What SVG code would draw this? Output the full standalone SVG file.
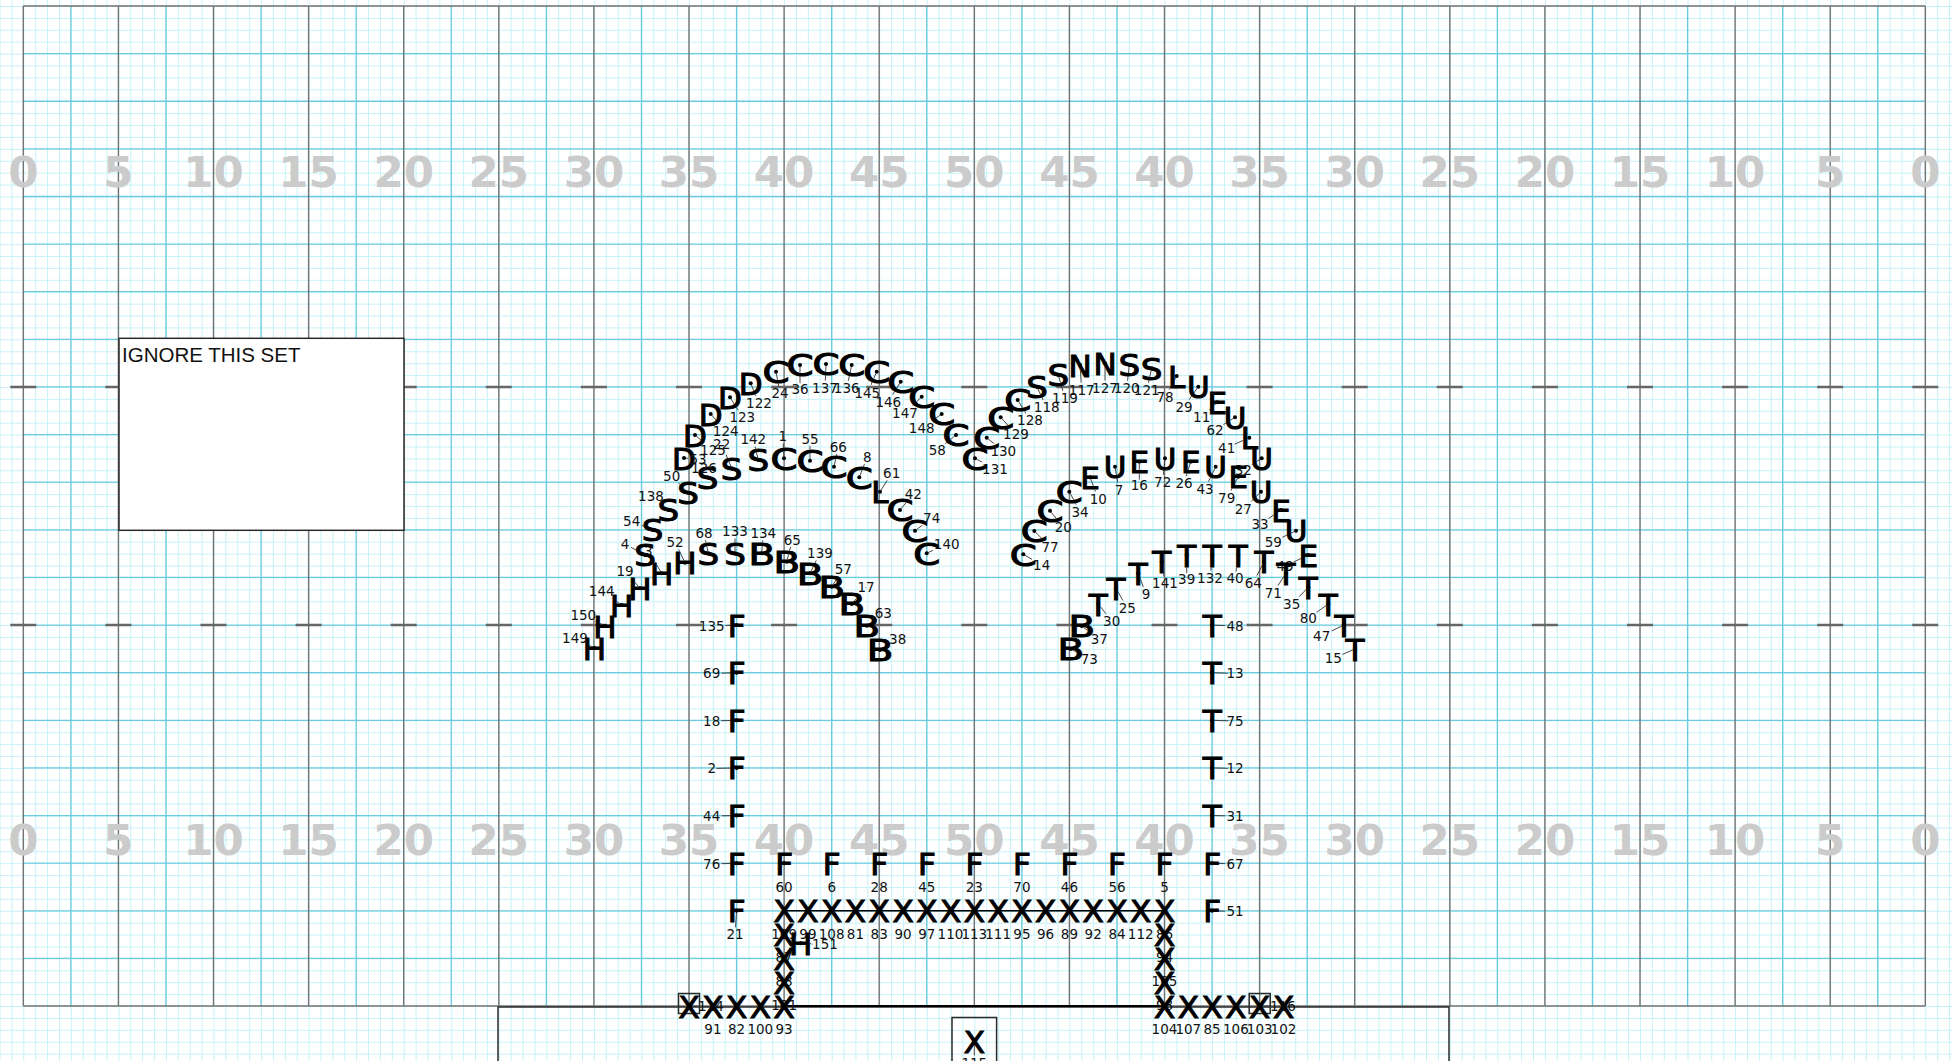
<svg xmlns="http://www.w3.org/2000/svg" xmlns:xlink="http://www.w3.org/1999/xlink" width="1952" height="1061" viewBox="0 0 1952 1061">
<style>
.s{font-family:"DejaVu Sans",sans-serif;font-weight:normal;font-size:31px;text-anchor:middle;fill:#000;stroke:#000;stroke-width:1.1}
.c,.b{transform:scaleX(1.25);transform-box:fill-box;transform-origin:50% 50%}
.z{transform:scaleX(1.1);transform-box:fill-box;transform-origin:50% 50%}
.l{font-family:"DejaVu Sans",sans-serif;font-size:13.5px;text-anchor:middle;fill:#111}
.d{fill:#000;stroke:none}
.num{font-family:"DejaVu Sans",sans-serif;font-weight:bold;font-size:43.5px;fill:#cbcbcb;text-anchor:middle}
#connectors line{stroke:#333;stroke-width:0.9}
</style>
<defs>
<pattern id="fine" patternUnits="userSpaceOnUse" x="23.3" y="6" width="11.8875" height="11.905">
<path d="M0.5 0V11.905M0 0.5H11.8875" stroke="#c6f2f8" stroke-width="1" fill="none"/>
</pattern>
<mask id="lm" maskUnits="userSpaceOnUse" x="0" y="0" width="1952" height="1061">
<rect width="1952" height="1061" fill="#fff"/>
<use xlink:href="#marchers" href="#marchers" stroke="#000" stroke-width="5"/>
</mask>
</defs>
<g id="field">
<rect width="1952" height="1061" fill="#fff"/>
<rect width="1952" height="1061" fill="url(#fine)"/>
<path d="M70.85 6V1006M165.95 6V1006M261.05 6V1006M356.15 6V1006M451.25 6V1006M546.35 6V1006M641.45 6V1006M736.55 6V1006M831.65 6V1006M926.75 6V1006M1021.85 6V1006M1116.95 6V1006M1212.05 6V1006M1307.15 6V1006M1402.25 6V1006M1497.35 6V1006M1592.45 6V1006M1687.55 6V1006M1782.65 6V1006M1877.75 6V1006M23.3 53.62H1925.3M23.3 101.24H1925.3M23.3 148.86H1925.3M23.3 196.48H1925.3M23.3 244.1H1925.3M23.3 291.72H1925.3M23.3 339.34H1925.3M23.3 386.96H1925.3M23.3 434.58H1925.3M23.3 482.2H1925.3M23.3 529.82H1925.3M23.3 577.44H1925.3M23.3 625.06H1925.3M23.3 672.68H1925.3M23.3 720.3H1925.3M23.3 767.92H1925.3M23.3 815.54H1925.3M23.3 863.16H1925.3M23.3 910.78H1925.3M23.3 958.4H1925.3" stroke="#6ccbdf" stroke-width="1.3" fill="none"/>
<path d="M23.3 6V1006M118.4 6V1006M213.5 6V1006M308.6 6V1006M403.7 6V1006M498.8 6V1006M593.9 6V1006M689 6V1006M784.1 6V1006M879.2 6V1006M974.3 6V1006M1069.4 6V1006M1164.5 6V1006M1259.6 6V1006M1354.7 6V1006M1449.8 6V1006M1544.9 6V1006M1640 6V1006M1735.1 6V1006M1830.2 6V1006M1925.3 6V1006M23.3 6H1925.3M23.3 1006H1925.3" stroke="#737373" stroke-width="1.4" fill="none"/>
<path d="M10.3 386.96h26M105.4 386.96h26M200.5 386.96h26M295.6 386.96h26M390.7 386.96h26M485.8 386.96h26M580.9 386.96h26M676 386.96h26M771.1 386.96h26M866.2 386.96h26M961.3 386.96h26M1056.4 386.96h26M1151.5 386.96h26M1246.6 386.96h26M1341.7 386.96h26M1436.8 386.96h26M1531.9 386.96h26M1627 386.96h26M1722.1 386.96h26M1817.2 386.96h26M1912.3 386.96h26M10.3 625.06h26M105.4 625.06h26M200.5 625.06h26M295.6 625.06h26M390.7 625.06h26M485.8 625.06h26M580.9 625.06h26M676 625.06h26M771.1 625.06h26M866.2 625.06h26M961.3 625.06h26M1056.4 625.06h26M1151.5 625.06h26M1246.6 625.06h26M1341.7 625.06h26M1436.8 625.06h26M1531.9 625.06h26M1627 625.06h26M1722.1 625.06h26M1817.2 625.06h26M1912.3 625.06h26" stroke="#666" stroke-width="2.5" fill="none"/>
<g class="num">
<text x="23.3" y="186.7">0</text><text x="118.4" y="186.7">5</text><text x="213.5" y="186.7">10</text><text x="308.6" y="186.7">15</text><text x="403.7" y="186.7">20</text><text x="498.8" y="186.7">25</text><text x="593.9" y="186.7">30</text><text x="689" y="186.7">35</text><text x="784.1" y="186.7">40</text><text x="879.2" y="186.7">45</text><text x="974.3" y="186.7">50</text><text x="1069.4" y="186.7">45</text><text x="1164.5" y="186.7">40</text><text x="1259.6" y="186.7">35</text><text x="1354.7" y="186.7">30</text><text x="1449.8" y="186.7">25</text><text x="1544.9" y="186.7">20</text><text x="1640" y="186.7">15</text><text x="1735.1" y="186.7">10</text><text x="1830.2" y="186.7">5</text><text x="1925.3" y="186.7">0</text>
<text x="23.3" y="855">0</text><text x="118.4" y="855">5</text><text x="213.5" y="855">10</text><text x="308.6" y="855">15</text><text x="403.7" y="855">20</text><text x="498.8" y="855">25</text><text x="593.9" y="855">30</text><text x="689" y="855">35</text><text x="784.1" y="855">40</text><text x="879.2" y="855">45</text><text x="974.3" y="855">50</text><text x="1069.4" y="855">45</text><text x="1164.5" y="855">40</text><text x="1259.6" y="855">35</text><text x="1354.7" y="855">30</text><text x="1449.8" y="855">25</text><text x="1544.9" y="855">20</text><text x="1640" y="855">15</text><text x="1735.1" y="855">10</text><text x="1830.2" y="855">5</text><text x="1925.3" y="855">0</text>
</g>
</g>
<g id="note">
<rect x="119" y="338.3" width="285" height="192" fill="#fff" stroke="#2a2a2a" stroke-width="1.5"/>
<text x="122" y="361.5" font-family="Liberation Sans, Arial, sans-serif" font-size="20.5" fill="#111">IGNORE THIS SET</text>
</g>
<g id="frames" fill="none" stroke="#2a2a2a" stroke-width="1.5">
<rect x="498" y="1007" width="951" height="70"/>
<rect x="952" y="1017.5" width="44.6" height="60"/>
<rect x="678.5" y="993.5" width="21" height="20"/>
<rect x="1249.2" y="993.5" width="21" height="20"/>
</g>
<g id="forms" stroke="#000" stroke-width="1.6">
<line x1="784.1" y1="910.8" x2="1164.5" y2="910.8"/>
<line x1="784.1" y1="1006" x2="1164.5" y2="1006" stroke-width="2.2"/>
</g>
<g id="connectors" mask="url(#lm)">
<line x1="684" y1="458" x2="698" y2="459"/><line x1="695" y1="435" x2="713" y2="450"/><line x1="710.7" y1="414" x2="725.7" y2="430.7"/><line x1="730" y1="397.3" x2="742.3" y2="416.7"/><line x1="750.7" y1="383.3" x2="759" y2="403.3"/><line x1="776" y1="371.7" x2="780" y2="393.3"/><line x1="800" y1="365" x2="800" y2="389.3"/><line x1="826" y1="364" x2="825" y2="388.3"/><line x1="851.7" y1="365" x2="846.7" y2="388.3"/><line x1="876.7" y1="371.7" x2="867.3" y2="393.3"/><line x1="900.7" y1="381.7" x2="888.3" y2="401.7"/><line x1="921.7" y1="396.7" x2="905" y2="413.3"/><line x1="941.7" y1="414" x2="921.7" y2="428.3"/><line x1="956" y1="435" x2="937.3" y2="450"/><line x1="975" y1="458.3" x2="995" y2="469.3"/><line x1="986.7" y1="437.7" x2="1003.3" y2="451"/><line x1="1000.7" y1="417.3" x2="1016" y2="434.3"/><line x1="1017.7" y1="400" x2="1030" y2="420"/><line x1="1037" y1="387" x2="1046.7" y2="407.3"/><line x1="1058.3" y1="375" x2="1065" y2="398.3"/><line x1="1080" y1="365" x2="1081.7" y2="390"/><line x1="1105" y1="363.3" x2="1105" y2="388.3"/><line x1="1129.3" y1="365" x2="1126.7" y2="388.3"/><line x1="1151.7" y1="368.3" x2="1146.7" y2="390"/><line x1="1176.7" y1="376" x2="1165" y2="397.3"/><line x1="1198.3" y1="386.7" x2="1184" y2="406.7"/><line x1="1217.3" y1="402.3" x2="1201.7" y2="417.3"/><line x1="1235" y1="417.3" x2="1215" y2="430"/><line x1="1249.3" y1="437.7" x2="1226.7" y2="447.7"/><line x1="1261.7" y1="458.3" x2="1243.3" y2="470"/><line x1="1238.3" y1="476.7" x2="1226.7" y2="498.3"/><line x1="1261" y1="491.7" x2="1243.3" y2="509.3"/><line x1="1281" y1="510" x2="1260" y2="524.3"/><line x1="1296" y1="530.7" x2="1273.3" y2="541.7"/><line x1="1308.3" y1="555" x2="1285" y2="566"/>
<line x1="1023.3" y1="554.3" x2="1041.7" y2="565"/><line x1="1034.3" y1="531" x2="1050" y2="546.7"/><line x1="1050" y1="510.7" x2="1063.3" y2="527.3"/><line x1="1069.3" y1="491.7" x2="1080" y2="511.7"/><line x1="1090" y1="477.3" x2="1098.3" y2="499"/><line x1="1115" y1="466.7" x2="1119" y2="490"/><line x1="1139.3" y1="461.7" x2="1139.3" y2="485"/><line x1="1165" y1="458.3" x2="1162.7" y2="482.3"/><line x1="1190.7" y1="461.7" x2="1184" y2="483.3"/><line x1="1215.7" y1="466.7" x2="1205" y2="489"/>
<line x1="1161.7" y1="561.7" x2="1165" y2="583.3"/><line x1="1186.7" y1="555" x2="1186.7" y2="579.3"/><line x1="1212.3" y1="555" x2="1210" y2="578.3"/><line x1="1238.3" y1="555" x2="1235" y2="578.3"/><line x1="1264" y1="561.7" x2="1253.3" y2="582.7"/><line x1="1286" y1="573.3" x2="1273.3" y2="592.7"/><line x1="1308.3" y1="587.3" x2="1291.7" y2="604.3"/><line x1="1328.3" y1="604" x2="1308.3" y2="618.3"/><line x1="1344" y1="625" x2="1321.7" y2="635.7"/><line x1="1355" y1="649" x2="1333.3" y2="658.3"/><line x1="1138.3" y1="573.3" x2="1146" y2="594.3"/><line x1="1116" y1="588.3" x2="1127.3" y2="608.3"/><line x1="1098.3" y1="604" x2="1111.7" y2="621"/><line x1="1081.7" y1="626" x2="1099.3" y2="639.3"/><line x1="1070.7" y1="649" x2="1089.3" y2="659"/>
<line x1="1212.1" y1="625.1" x2="1235" y2="626"/><line x1="1212.1" y1="672.7" x2="1235" y2="673.5"/><line x1="1212.1" y1="720.3" x2="1235" y2="721"/><line x1="1212.1" y1="767.9" x2="1235" y2="768.5"/><line x1="1212.1" y1="815.5" x2="1235" y2="816"/><line x1="1212.1" y1="863.2" x2="1235" y2="864"/><line x1="1212.1" y1="910.8" x2="1235" y2="911.5"/>
<line x1="736.6" y1="625.1" x2="711.7" y2="626"/><line x1="736.6" y1="672.7" x2="711.7" y2="673.5"/><line x1="736.6" y1="720.3" x2="711.7" y2="721"/><line x1="736.6" y1="767.9" x2="711.7" y2="768.5"/><line x1="736.6" y1="815.5" x2="711.7" y2="816"/><line x1="736.6" y1="863.2" x2="711.7" y2="864"/><line x1="736.6" y1="910.8" x2="735" y2="934.5"/>
<line x1="594.3" y1="648" x2="575" y2="638.3"/><line x1="605" y1="626" x2="583.3" y2="615"/><line x1="621.7" y1="605" x2="601.7" y2="590.7"/><line x1="640" y1="588.3" x2="625" y2="570.7"/><line x1="661.7" y1="573.3" x2="648.3" y2="550.7"/><line x1="685" y1="562.7" x2="675" y2="541.7"/><line x1="800.7" y1="943.3" x2="825" y2="944.3"/>
<line x1="645" y1="555" x2="625" y2="544"/><line x1="652.7" y1="530" x2="631.7" y2="521"/><line x1="668.3" y1="510" x2="651" y2="496"/><line x1="688" y1="492.7" x2="671.7" y2="476"/><line x1="707.7" y1="477.3" x2="704" y2="467.7"/><line x1="731.7" y1="468.3" x2="721.7" y2="444"/><line x1="758.3" y1="460" x2="753.3" y2="439.3"/><line x1="708.3" y1="553.3" x2="704" y2="533.3"/><line x1="735" y1="553.3" x2="735" y2="530.7"/>
<line x1="761.7" y1="553.3" x2="763.3" y2="532.7"/><line x1="786.7" y1="561.7" x2="792.3" y2="540"/><line x1="810" y1="573.3" x2="820" y2="552.7"/><line x1="831.7" y1="586.7" x2="843.3" y2="569.3"/><line x1="851.7" y1="604" x2="866" y2="587.3"/><line x1="866.7" y1="625.7" x2="883.3" y2="613.3"/><line x1="880" y1="650" x2="897.7" y2="639.3"/>
<line x1="784" y1="458.3" x2="782.7" y2="436"/><line x1="810" y1="460.7" x2="810" y2="439"/><line x1="834" y1="466.7" x2="838.3" y2="446.7"/><line x1="859.3" y1="477.3" x2="867.3" y2="456.7"/><line x1="880" y1="491.7" x2="891.7" y2="473.3"/><line x1="900" y1="510" x2="913.3" y2="494"/><line x1="915" y1="530.7" x2="931.7" y2="518.3"/><line x1="926.7" y1="553.3" x2="946.7" y2="544"/>
<line x1="974.3" y1="1041" x2="974.3" y2="1063.5"/><line x1="689" y1="1006" x2="711" y2="1006"/><line x1="1259.7" y1="1006" x2="1283" y2="1006"/>
</g>
<g id="marchers">
<g id="p53"><text class="s" x="684" y="469.5">D</text><circle class="d" cx="684" cy="458" r="2"/><text class="l" x="698" y="463.9">53</text></g>
<g id="p125"><text class="s" x="695" y="446.5">D</text><circle class="d" cx="695" cy="435" r="2"/><text class="l" x="713" y="454.9">125</text></g>
<g id="p124"><text class="s" x="710.7" y="425.5">D</text><circle class="d" cx="710.7" cy="414" r="2"/><text class="l" x="725.7" y="435.6">124</text></g>
<g id="p123"><text class="s" x="730" y="408.8">D</text><circle class="d" cx="730" cy="397.3" r="2"/><text class="l" x="742.3" y="421.6">123</text></g>
<g id="p122"><text class="s" x="750.7" y="394.8">D</text><circle class="d" cx="750.7" cy="383.3" r="2"/><text class="l" x="759" y="408.2">122</text></g>
<g id="p24"><text class="s c" x="776" y="383.2">C</text><circle class="d" cx="776" cy="371.7" r="2"/><text class="l" x="780" y="398.2">24</text></g>
<g id="p36"><text class="s c" x="800" y="376.5">C</text><circle class="d" cx="800" cy="365" r="2"/><text class="l" x="800" y="394.2">36</text></g>
<g id="p137"><text class="s c" x="826" y="375.5">C</text><circle class="d" cx="826" cy="364" r="2"/><text class="l" x="825" y="393.2">137</text></g>
<g id="p136"><text class="s c" x="851.7" y="376.5">C</text><circle class="d" cx="851.7" cy="365" r="2"/><text class="l" x="846.7" y="393.2">136</text></g>
<g id="p145"><text class="s c" x="876.7" y="383.2">C</text><circle class="d" cx="876.7" cy="371.7" r="2"/><text class="l" x="867.3" y="398.2">145</text></g>
<g id="p146"><text class="s c" x="900.7" y="393.2">C</text><circle class="d" cx="900.7" cy="381.7" r="2"/><text class="l" x="888.3" y="406.6">146</text></g>
<g id="p147"><text class="s c" x="921.7" y="408.2">C</text><circle class="d" cx="921.7" cy="396.7" r="2"/><text class="l" x="905" y="418.2">147</text></g>
<g id="p148"><text class="s c" x="941.7" y="425.5">C</text><circle class="d" cx="941.7" cy="414" r="2"/><text class="l" x="921.7" y="433.2">148</text></g>
<g id="p58"><text class="s c" x="956" y="446.5">C</text><circle class="d" cx="956" cy="435" r="2"/><text class="l" x="937.3" y="454.9">58</text></g>
<g id="p131"><text class="s c" x="975" y="469.8">C</text><circle class="d" cx="975" cy="458.3" r="2"/><text class="l" x="995" y="474.2">131</text></g>
<g id="p130"><text class="s c" x="986.7" y="449.2">C</text><circle class="d" cx="986.7" cy="437.7" r="2"/><text class="l" x="1003.3" y="455.9">130</text></g>
<g id="p129"><text class="s c" x="1000.7" y="428.8">C</text><circle class="d" cx="1000.7" cy="417.3" r="2"/><text class="l" x="1016" y="439.2">129</text></g>
<g id="p128"><text class="s c" x="1017.7" y="411.5">C</text><circle class="d" cx="1017.7" cy="400" r="2"/><text class="l" x="1030" y="424.9">128</text></g>
<g id="p118"><text class="s z" x="1037" y="398.5">S</text><circle class="d" cx="1037" cy="387" r="2"/><text class="l" x="1046.7" y="412.2">118</text></g>
<g id="p119"><text class="s z" x="1058.3" y="386.5">S</text><circle class="d" cx="1058.3" cy="375" r="2"/><text class="l" x="1065" y="403.2">119</text></g>
<g id="p117"><text class="s" x="1080" y="376.5">N</text><circle class="d" cx="1080" cy="365" r="2"/><text class="l" x="1081.7" y="394.9">117</text></g>
<g id="p127"><text class="s" x="1105" y="374.8">N</text><circle class="d" cx="1105" cy="363.3" r="2"/><text class="l" x="1105" y="393.2">127</text></g>
<g id="p120"><text class="s z" x="1129.3" y="376.5">S</text><circle class="d" cx="1129.3" cy="365" r="2"/><text class="l" x="1126.7" y="393.2">120</text></g>
<g id="p121"><text class="s z" x="1151.7" y="379.8">S</text><circle class="d" cx="1151.7" cy="368.3" r="2"/><text class="l" x="1146.7" y="394.9">121</text></g>
<g id="p78"><text class="s" x="1176.7" y="387.5">L</text><circle class="d" cx="1176.7" cy="376" r="2"/><text class="l" x="1165" y="402.2">78</text></g>
<g id="p29"><text class="s" x="1198.3" y="398.2">U</text><circle class="d" cx="1198.3" cy="386.7" r="2"/><text class="l" x="1184" y="411.6">29</text></g>
<g id="p11"><text class="s" x="1217.3" y="413.8">E</text><circle class="d" cx="1217.3" cy="402.3" r="2"/><text class="l" x="1201.7" y="422.2">11</text></g>
<g id="p62"><text class="s" x="1235" y="428.8">U</text><circle class="d" cx="1235" cy="417.3" r="2"/><text class="l" x="1215" y="434.9">62</text></g>
<g id="p41"><text class="s" x="1249.3" y="449.2">L</text><circle class="d" cx="1249.3" cy="437.7" r="2"/><text class="l" x="1226.7" y="452.6">41</text></g>
<g id="p32"><text class="s" x="1261.7" y="469.8">U</text><circle class="d" cx="1261.7" cy="458.3" r="2"/><text class="l" x="1243.3" y="474.9">32</text></g>
<g id="p79"><text class="s" x="1238.3" y="488.2">E</text><circle class="d" cx="1238.3" cy="476.7" r="2"/><text class="l" x="1226.7" y="503.2">79</text></g>
<g id="p27"><text class="s" x="1261" y="503.2">U</text><circle class="d" cx="1261" cy="491.7" r="2"/><text class="l" x="1243.3" y="514.2">27</text></g>
<g id="p33"><text class="s" x="1281" y="521.5">E</text><circle class="d" cx="1281" cy="510" r="2"/><text class="l" x="1260" y="529.2">33</text></g>
<g id="p59"><text class="s" x="1296" y="542.2">U</text><circle class="d" cx="1296" cy="530.7" r="2"/><text class="l" x="1273.3" y="546.6">59</text></g>
<g id="p49"><text class="s" x="1308.3" y="566.5">E</text><circle class="d" cx="1308.3" cy="555" r="2"/><text class="l" x="1285" y="570.9">49</text></g>
<g id="p14"><text class="s c" x="1023.3" y="565.8">C</text><circle class="d" cx="1023.3" cy="554.3" r="2"/><text class="l" x="1041.7" y="569.9">14</text></g>
<g id="p77"><text class="s c" x="1034.3" y="542.5">C</text><circle class="d" cx="1034.3" cy="531" r="2"/><text class="l" x="1050" y="551.6">77</text></g>
<g id="p20"><text class="s c" x="1050" y="522.2">C</text><circle class="d" cx="1050" cy="510.7" r="2"/><text class="l" x="1063.3" y="532.2">20</text></g>
<g id="p34"><text class="s c" x="1069.3" y="503.2">C</text><circle class="d" cx="1069.3" cy="491.7" r="2"/><text class="l" x="1080" y="516.6">34</text></g>
<g id="p10"><text class="s" x="1090" y="488.8">E</text><circle class="d" cx="1090" cy="477.3" r="2"/><text class="l" x="1098.3" y="503.9">10</text></g>
<g id="p7"><text class="s" x="1115" y="478.2">U</text><circle class="d" cx="1115" cy="466.7" r="2"/><text class="l" x="1119" y="494.9">7</text></g>
<g id="p16"><text class="s" x="1139.3" y="473.2">E</text><circle class="d" cx="1139.3" cy="461.7" r="2"/><text class="l" x="1139.3" y="489.9">16</text></g>
<g id="p72"><text class="s" x="1165" y="469.8">U</text><circle class="d" cx="1165" cy="458.3" r="2"/><text class="l" x="1162.7" y="487.2">72</text></g>
<g id="p26"><text class="s" x="1190.7" y="473.2">E</text><circle class="d" cx="1190.7" cy="461.7" r="2"/><text class="l" x="1184" y="488.2">26</text></g>
<g id="p43"><text class="s" x="1215.7" y="478.2">U</text><circle class="d" cx="1215.7" cy="466.7" r="2"/><text class="l" x="1205" y="493.9">43</text></g>
<g id="p141"><text class="s" x="1161.7" y="573.2">T</text><circle class="d" cx="1161.7" cy="561.7" r="2"/><text class="l" x="1165" y="588.2">141</text></g>
<g id="p39"><text class="s" x="1186.7" y="566.5">T</text><circle class="d" cx="1186.7" cy="555" r="2"/><text class="l" x="1186.7" y="584.2">39</text></g>
<g id="p132"><text class="s" x="1212.3" y="566.5">T</text><circle class="d" cx="1212.3" cy="555" r="2"/><text class="l" x="1210" y="583.2">132</text></g>
<g id="p40"><text class="s" x="1238.3" y="566.5">T</text><circle class="d" cx="1238.3" cy="555" r="2"/><text class="l" x="1235" y="583.2">40</text></g>
<g id="p64"><text class="s" x="1264" y="573.2">T</text><circle class="d" cx="1264" cy="561.7" r="2"/><text class="l" x="1253.3" y="587.6">64</text></g>
<g id="p71"><text class="s" x="1286" y="584.8">T</text><circle class="d" cx="1286" cy="573.3" r="2"/><text class="l" x="1273.3" y="597.6">71</text></g>
<g id="p35"><text class="s" x="1308.3" y="598.8">T</text><circle class="d" cx="1308.3" cy="587.3" r="2"/><text class="l" x="1291.7" y="609.2">35</text></g>
<g id="p80"><text class="s" x="1328.3" y="615.5">T</text><circle class="d" cx="1328.3" cy="604" r="2"/><text class="l" x="1308.3" y="623.2">80</text></g>
<g id="p47"><text class="s" x="1344" y="636.5">T</text><circle class="d" cx="1344" cy="625" r="2"/><text class="l" x="1321.7" y="640.6">47</text></g>
<g id="p15"><text class="s" x="1355" y="660.5">T</text><circle class="d" cx="1355" cy="649" r="2"/><text class="l" x="1333.3" y="663.2">15</text></g>
<g id="p9"><text class="s" x="1138.3" y="584.8">T</text><circle class="d" cx="1138.3" cy="573.3" r="2"/><text class="l" x="1146" y="599.2">9</text></g>
<g id="p25"><text class="s" x="1116" y="599.8">T</text><circle class="d" cx="1116" cy="588.3" r="2"/><text class="l" x="1127.3" y="613.2">25</text></g>
<g id="p30"><text class="s" x="1098.3" y="615.5">T</text><circle class="d" cx="1098.3" cy="604" r="2"/><text class="l" x="1111.7" y="625.9">30</text></g>
<g id="p37"><text class="s b" x="1081.7" y="637.5">B</text><circle class="d" cx="1081.7" cy="626" r="2"/><text class="l" x="1099.3" y="644.2">37</text></g>
<g id="p73"><text class="s b" x="1070.7" y="660.5">B</text><circle class="d" cx="1070.7" cy="649" r="2"/><text class="l" x="1089.3" y="663.9">73</text></g>
<g id="p48"><text class="s" x="1212.1" y="636.6">T</text><circle class="d" cx="1212.1" cy="625.1" r="2"/><text class="l" x="1235" y="630.9">48</text></g>
<g id="p13"><text class="s" x="1212.1" y="684.2">T</text><circle class="d" cx="1212.1" cy="672.7" r="2"/><text class="l" x="1235" y="678.4">13</text></g>
<g id="p75"><text class="s" x="1212.1" y="731.8">T</text><circle class="d" cx="1212.1" cy="720.3" r="2"/><text class="l" x="1235" y="725.9">75</text></g>
<g id="p12"><text class="s" x="1212.1" y="779.4">T</text><circle class="d" cx="1212.1" cy="767.9" r="2"/><text class="l" x="1235" y="773.4">12</text></g>
<g id="p31"><text class="s" x="1212.1" y="827">T</text><circle class="d" cx="1212.1" cy="815.5" r="2"/><text class="l" x="1235" y="820.9">31</text></g>
<g id="p67"><text class="s" x="1212.1" y="874.7">F</text><circle class="d" cx="1212.1" cy="863.2" r="2"/><text class="l" x="1235" y="868.9">67</text></g>
<g id="p51"><text class="s" x="1212.1" y="922.3">F</text><circle class="d" cx="1212.1" cy="910.8" r="2"/><text class="l" x="1235" y="916.4">51</text></g>
<g id="p135"><text class="s" x="736.6" y="636.6">F</text><circle class="d" cx="736.6" cy="625.1" r="2"/><text class="l" x="711.7" y="630.9">135</text></g>
<g id="p69"><text class="s" x="736.6" y="684.2">F</text><circle class="d" cx="736.6" cy="672.7" r="2"/><text class="l" x="711.7" y="678.4">69</text></g>
<g id="p18"><text class="s" x="736.6" y="731.8">F</text><circle class="d" cx="736.6" cy="720.3" r="2"/><text class="l" x="711.7" y="725.9">18</text></g>
<g id="p2"><text class="s" x="736.6" y="779.4">F</text><circle class="d" cx="736.6" cy="767.9" r="2"/><text class="l" x="711.7" y="773.4">2</text></g>
<g id="p44"><text class="s" x="736.6" y="827">F</text><circle class="d" cx="736.6" cy="815.5" r="2"/><text class="l" x="711.7" y="820.9">44</text></g>
<g id="p76"><text class="s" x="736.6" y="874.7">F</text><circle class="d" cx="736.6" cy="863.2" r="2"/><text class="l" x="711.7" y="868.9">76</text></g>
<g id="p21"><text class="s" x="736.6" y="922.3">F</text><circle class="d" cx="736.6" cy="910.8" r="2"/><text class="l" x="735" y="939.4">21</text></g>
<g id="p60"><text class="s" x="784.1" y="874.7">F</text><circle class="d" cx="784.1" cy="863.2" r="2"/><text class="l" x="784.1" y="891.6">60</text></g>
<g id="p6"><text class="s" x="831.7" y="874.7">F</text><circle class="d" cx="831.7" cy="863.2" r="2"/><text class="l" x="831.7" y="891.6">6</text></g>
<g id="p28"><text class="s" x="879.2" y="874.7">F</text><circle class="d" cx="879.2" cy="863.2" r="2"/><text class="l" x="879.2" y="891.6">28</text></g>
<g id="p45"><text class="s" x="926.8" y="874.7">F</text><circle class="d" cx="926.8" cy="863.2" r="2"/><text class="l" x="926.8" y="891.6">45</text></g>
<g id="p23"><text class="s" x="974.3" y="874.7">F</text><circle class="d" cx="974.3" cy="863.2" r="2"/><text class="l" x="974.3" y="891.6">23</text></g>
<g id="p70"><text class="s" x="1021.9" y="874.7">F</text><circle class="d" cx="1021.9" cy="863.2" r="2"/><text class="l" x="1021.9" y="891.6">70</text></g>
<g id="p46"><text class="s" x="1069.4" y="874.7">F</text><circle class="d" cx="1069.4" cy="863.2" r="2"/><text class="l" x="1069.4" y="891.6">46</text></g>
<g id="p56"><text class="s" x="1117" y="874.7">F</text><circle class="d" cx="1117" cy="863.2" r="2"/><text class="l" x="1117" y="891.6">56</text></g>
<g id="p5"><text class="s" x="1164.5" y="874.7">F</text><circle class="d" cx="1164.5" cy="863.2" r="2"/><text class="l" x="1164.5" y="891.6">5</text></g>
<g id="p109"><text class="s" x="784.1" y="922.3">X</text><circle class="d" cx="784.1" cy="910.8" r="2"/><text class="l" x="784.1" y="938.9">109</text></g>
<g id="p99"><text class="s" x="807.9" y="922.3">X</text><circle class="d" cx="807.9" cy="910.8" r="2"/><text class="l" x="807.9" y="938.9">99</text></g>
<g id="p108"><text class="s" x="831.6" y="922.3">X</text><circle class="d" cx="831.6" cy="910.8" r="2"/><text class="l" x="831.6" y="938.9">108</text></g>
<g id="p81"><text class="s" x="855.4" y="922.3">X</text><circle class="d" cx="855.4" cy="910.8" r="2"/><text class="l" x="855.4" y="938.9">81</text></g>
<g id="p83"><text class="s" x="879.2" y="922.3">X</text><circle class="d" cx="879.2" cy="910.8" r="2"/><text class="l" x="879.2" y="938.9">83</text></g>
<g id="p90"><text class="s" x="903" y="922.3">X</text><circle class="d" cx="903" cy="910.8" r="2"/><text class="l" x="903" y="938.9">90</text></g>
<g id="p97"><text class="s" x="926.8" y="922.3">X</text><circle class="d" cx="926.8" cy="910.8" r="2"/><text class="l" x="926.8" y="938.9">97</text></g>
<g id="p110"><text class="s" x="950.5" y="922.3">X</text><circle class="d" cx="950.5" cy="910.8" r="2"/><text class="l" x="950.5" y="938.9">110</text></g>
<g id="p113"><text class="s" x="974.3" y="922.3">X</text><circle class="d" cx="974.3" cy="910.8" r="2"/><text class="l" x="974.3" y="938.9">113</text></g>
<g id="p111"><text class="s" x="998.1" y="922.3">X</text><circle class="d" cx="998.1" cy="910.8" r="2"/><text class="l" x="998.1" y="938.9">111</text></g>
<g id="p95"><text class="s" x="1021.9" y="922.3">X</text><circle class="d" cx="1021.9" cy="910.8" r="2"/><text class="l" x="1021.9" y="938.9">95</text></g>
<g id="p96"><text class="s" x="1045.6" y="922.3">X</text><circle class="d" cx="1045.6" cy="910.8" r="2"/><text class="l" x="1045.6" y="938.9">96</text></g>
<g id="p89"><text class="s" x="1069.4" y="922.3">X</text><circle class="d" cx="1069.4" cy="910.8" r="2"/><text class="l" x="1069.4" y="938.9">89</text></g>
<g id="p92"><text class="s" x="1093.2" y="922.3">X</text><circle class="d" cx="1093.2" cy="910.8" r="2"/><text class="l" x="1093.2" y="938.9">92</text></g>
<g id="p84"><text class="s" x="1117" y="922.3">X</text><circle class="d" cx="1117" cy="910.8" r="2"/><text class="l" x="1117" y="938.9">84</text></g>
<g id="p112"><text class="s" x="1140.7" y="922.3">X</text><circle class="d" cx="1140.7" cy="910.8" r="2"/><text class="l" x="1140.7" y="938.9">112</text></g>
<g id="p86"><text class="s" x="1164.5" y="922.3">X</text><circle class="d" cx="1164.5" cy="910.8" r="2"/><text class="l" x="1164.5" y="938.9">86</text></g>
<g id="p87"><text class="s" x="784.1" y="946.1">X</text><circle class="d" cx="784.1" cy="934.6" r="2"/><text class="l" x="784.1" y="962.4">87</text></g>
<g id="p88"><text class="s" x="784.1" y="969.9">X</text><circle class="d" cx="784.1" cy="958.4" r="2"/><text class="l" x="784.1" y="986.4">88</text></g>
<g id="p101"><text class="s" x="784.1" y="993.7">X</text><circle class="d" cx="784.1" cy="982.2" r="2"/><text class="l" x="784.1" y="1010.4">101</text></g>
<g id="p94"><text class="s" x="1164.5" y="946.1">X</text><circle class="d" cx="1164.5" cy="934.6" r="2"/><text class="l" x="1164.5" y="962.4">94</text></g>
<g id="p105"><text class="s" x="1164.5" y="969.9">X</text><circle class="d" cx="1164.5" cy="958.4" r="2"/><text class="l" x="1164.5" y="986.4">105</text></g>
<g id="p98"><text class="s" x="1164.5" y="993.7">X</text><circle class="d" cx="1164.5" cy="982.2" r="2"/><text class="l" x="1164.5" y="1010.4">98</text></g>
<g id="p114"><text class="s" x="689" y="1017.5">X</text><circle class="d" cx="689" cy="1006" r="2"/><text class="l" x="711" y="1010.9">114</text></g>
<g id="p91"><text class="s" x="712.9" y="1017.5">X</text><circle class="d" cx="712.9" cy="1006" r="2"/><text class="l" x="712.9" y="1033.9">91</text></g>
<g id="p82"><text class="s" x="736.6" y="1017.5">X</text><circle class="d" cx="736.6" cy="1006" r="2"/><text class="l" x="736.6" y="1033.9">82</text></g>
<g id="p100"><text class="s" x="760.3" y="1017.5">X</text><circle class="d" cx="760.3" cy="1006" r="2"/><text class="l" x="760.3" y="1033.9">100</text></g>
<g id="p93"><text class="s" x="784.1" y="1017.5">X</text><circle class="d" cx="784.1" cy="1006" r="2"/><text class="l" x="784.1" y="1033.9">93</text></g>
<g id="p104"><text class="s" x="1164.5" y="1017.5">X</text><circle class="d" cx="1164.5" cy="1006" r="2"/><text class="l" x="1164.5" y="1033.9">104</text></g>
<g id="p107"><text class="s" x="1188.3" y="1017.5">X</text><circle class="d" cx="1188.3" cy="1006" r="2"/><text class="l" x="1188.3" y="1033.9">107</text></g>
<g id="p85"><text class="s" x="1212.1" y="1017.5">X</text><circle class="d" cx="1212.1" cy="1006" r="2"/><text class="l" x="1212.1" y="1033.9">85</text></g>
<g id="p106"><text class="s" x="1235.9" y="1017.5">X</text><circle class="d" cx="1235.9" cy="1006" r="2"/><text class="l" x="1235.9" y="1033.9">106</text></g>
<g id="p103"><text class="s" x="1259.7" y="1017.5">X</text><circle class="d" cx="1259.7" cy="1006" r="2"/><text class="l" x="1259.7" y="1033.9">103</text></g>
<g id="p102"><text class="s" x="1283.5" y="1017.5">X</text><circle class="d" cx="1283.5" cy="1006" r="2"/><text class="l" x="1283.5" y="1033.9">102</text></g>
<g id="p116"><circle class="d" cx="1259.7" cy="1006" r="2"/><text class="l" x="1283" y="1010.9">116</text></g>
<g id="p115"><text class="s" x="974.3" y="1052.5">X</text><circle class="d" cx="974.3" cy="1041" r="2"/><text class="l" x="974.3" y="1068.4">115</text></g>
<g id="p149"><text class="s" x="594.3" y="659.5">H</text><circle class="d" cx="594.3" cy="648" r="2"/><text class="l" x="575" y="643.2">149</text></g>
<g id="p150"><text class="s" x="605" y="637.5">H</text><circle class="d" cx="605" cy="626" r="2"/><text class="l" x="583.3" y="619.9">150</text></g>
<g id="p144"><text class="s" x="621.7" y="616.5">H</text><circle class="d" cx="621.7" cy="605" r="2"/><text class="l" x="601.7" y="595.6">144</text></g>
<g id="p19"><text class="s" x="640" y="599.8">H</text><circle class="d" cx="640" cy="588.3" r="2"/><text class="l" x="625" y="575.6">19</text></g>
<g id="p3"><text class="s" x="661.7" y="584.8">H</text><circle class="d" cx="661.7" cy="573.3" r="2"/><text class="l" x="648.3" y="555.6">3</text></g>
<g id="p52"><text class="s" x="685" y="574.2">H</text><circle class="d" cx="685" cy="562.7" r="2"/><text class="l" x="675" y="546.6">52</text></g>
<g id="p151"><text class="s" x="800.7" y="954.8">H</text><circle class="d" cx="800.7" cy="943.3" r="2"/><text class="l" x="825" y="949.2">151</text></g>
<g id="p4"><text class="s z" x="645" y="566.5">S</text><circle class="d" cx="645" cy="555" r="2"/><text class="l" x="625" y="548.9">4</text></g>
<g id="p54"><text class="s z" x="652.7" y="541.5">S</text><circle class="d" cx="652.7" cy="530" r="2"/><text class="l" x="631.7" y="525.9">54</text></g>
<g id="p138"><text class="s z" x="668.3" y="521.5">S</text><circle class="d" cx="668.3" cy="510" r="2"/><text class="l" x="651" y="500.9">138</text></g>
<g id="p50"><text class="s z" x="688" y="504.2">S</text><circle class="d" cx="688" cy="492.7" r="2"/><text class="l" x="671.7" y="480.9">50</text></g>
<g id="p126"><text class="s z" x="707.7" y="488.8">S</text><circle class="d" cx="707.7" cy="477.3" r="2"/><text class="l" x="704" y="472.6">126</text></g>
<g id="p22"><text class="s z" x="731.7" y="479.8">S</text><circle class="d" cx="731.7" cy="468.3" r="2"/><text class="l" x="721.7" y="448.9">22</text></g>
<g id="p142"><text class="s z" x="758.3" y="471.5">S</text><circle class="d" cx="758.3" cy="460" r="2"/><text class="l" x="753.3" y="444.2">142</text></g>
<g id="p68"><text class="s z" x="708.3" y="564.8">S</text><circle class="d" cx="708.3" cy="553.3" r="2"/><text class="l" x="704" y="538.2">68</text></g>
<g id="p133"><text class="s z" x="735" y="564.8">S</text><circle class="d" cx="735" cy="553.3" r="2"/><text class="l" x="735" y="535.6">133</text></g>
<g id="p134"><text class="s b" x="761.7" y="564.8">B</text><circle class="d" cx="761.7" cy="553.3" r="2"/><text class="l" x="763.3" y="537.6">134</text></g>
<g id="p65"><text class="s b" x="786.7" y="573.2">B</text><circle class="d" cx="786.7" cy="561.7" r="2"/><text class="l" x="792.3" y="544.9">65</text></g>
<g id="p139"><text class="s b" x="810" y="584.8">B</text><circle class="d" cx="810" cy="573.3" r="2"/><text class="l" x="820" y="557.6">139</text></g>
<g id="p57"><text class="s b" x="831.7" y="598.2">B</text><circle class="d" cx="831.7" cy="586.7" r="2"/><text class="l" x="843.3" y="574.2">57</text></g>
<g id="p17"><text class="s b" x="851.7" y="615.5">B</text><circle class="d" cx="851.7" cy="604" r="2"/><text class="l" x="866" y="592.2">17</text></g>
<g id="p63"><text class="s b" x="866.7" y="637.2">B</text><circle class="d" cx="866.7" cy="625.7" r="2"/><text class="l" x="883.3" y="618.2">63</text></g>
<g id="p38"><text class="s b" x="880" y="661.5">B</text><circle class="d" cx="880" cy="650" r="2"/><text class="l" x="897.7" y="644.2">38</text></g>
<g id="p1"><text class="s c" x="784" y="469.8">C</text><circle class="d" cx="784" cy="458.3" r="2"/><text class="l" x="782.7" y="440.9">1</text></g>
<g id="p55"><text class="s c" x="810" y="472.2">C</text><circle class="d" cx="810" cy="460.7" r="2"/><text class="l" x="810" y="443.9">55</text></g>
<g id="p66"><text class="s c" x="834" y="478.2">C</text><circle class="d" cx="834" cy="466.7" r="2"/><text class="l" x="838.3" y="451.6">66</text></g>
<g id="p8"><text class="s c" x="859.3" y="488.8">C</text><circle class="d" cx="859.3" cy="477.3" r="2"/><text class="l" x="867.3" y="461.6">8</text></g>
<g id="p61"><text class="s" x="880" y="503.2">L</text><circle class="d" cx="880" cy="491.7" r="2"/><text class="l" x="891.7" y="478.2">61</text></g>
<g id="p42"><text class="s c" x="900" y="521.5">C</text><circle class="d" cx="900" cy="510" r="2"/><text class="l" x="913.3" y="498.9">42</text></g>
<g id="p74"><text class="s c" x="915" y="542.2">C</text><circle class="d" cx="915" cy="530.7" r="2"/><text class="l" x="931.7" y="523.2">74</text></g>
<g id="p140"><text class="s c" x="926.7" y="564.8">C</text><circle class="d" cx="926.7" cy="553.3" r="2"/><text class="l" x="946.7" y="548.9">140</text></g>
</g>
</svg>
